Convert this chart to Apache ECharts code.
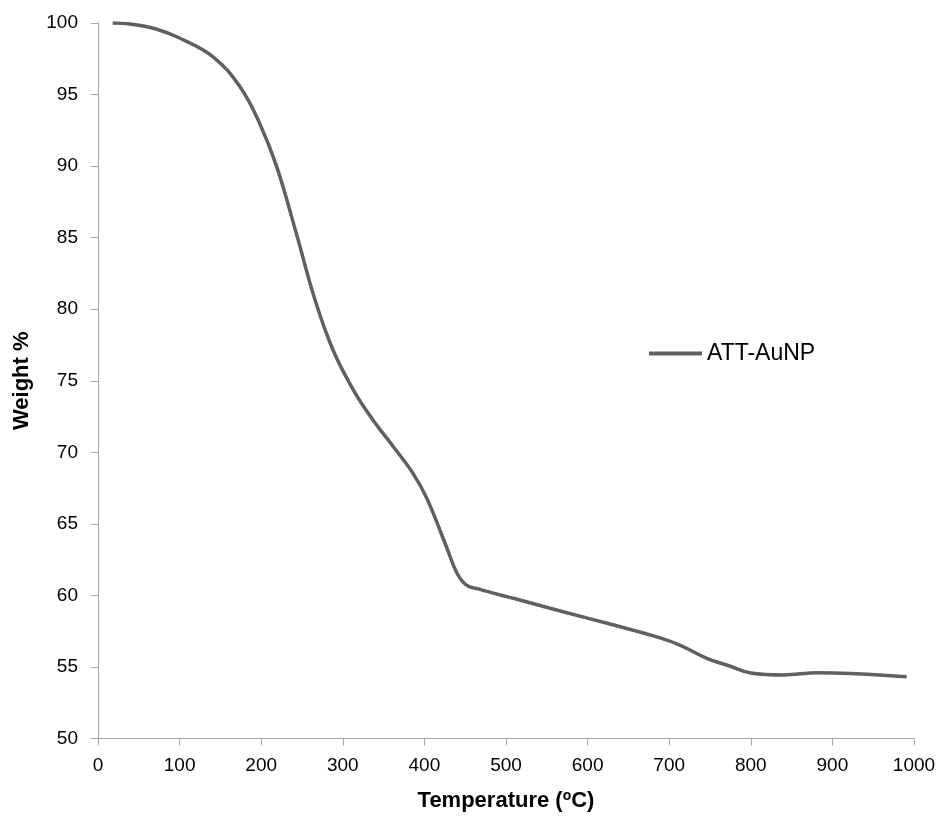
<!DOCTYPE html>
<html>
<head>
<meta charset="utf-8">
<script src="https://cdn.jsdelivr.net/npm/echarts@6/dist/echarts.min.js"></script>
<style>html,body{margin:0;padding:0;background:#fff}#c{width:939px;height:818px}</style>
</head>
<body>
<div id="c"></div>
<script>
const temperature = [18, 41, 70, 100, 141, 174, 198, 219, 243, 266, 288, 313, 337, 362, 386, 403, 427, 440, 452, 468, 493, 509, 570, 632, 685, 713, 746, 775, 800, 840, 881, 922, 991];
const weight = [100, 99.92, 99.6, 98.95, 97.64, 95.55, 93.0, 89.96, 85.3, 80.64, 77.15, 74.35, 72.26, 70.39, 68.53, 66.78, 63.4, 61.55, 60.7, 60.42, 60.03, 59.8, 58.86, 57.93, 57.1, 56.53, 55.6, 55.05, 54.58, 54.44, 54.6, 54.55, 54.32];
const seriesName = 'ATT-AuNP';

const data = temperature.map((t, i) => [t, weight[i]]);
const font = 'Liberation Sans';
const chart = echarts.init(document.getElementById('c'));
chart.setOption({
  animation: false,
  backgroundColor: '#fff',
  grid: { left: 98, right: 25, top: 23, bottom: 79.5, containLabel: false },
  legend: {
    data: [seriesName], left: 649, top: 342, padding: 0, itemWidth: 53, itemHeight: 4, itemGap: 0,
    icon: 'path://M0,0H53V4H0Z',
    textStyle: { fontFamily: font, fontSize: 23, color: '#000' }
  },
  xAxis: {
    type: 'value', min: 0, max: 1000, interval: 100,
    name: 'Temperature ({sup|o}C)', nameLocation: 'middle', nameGap: 51,
    nameTextStyle: { fontFamily: font, fontSize: 22, fontWeight: 'bold', color: '#000',
      rich: { sup: { fontFamily: font, fontSize: 14, fontWeight: 'bold', color: '#000', verticalAlign: 'top', padding: [0, 0, 9, 0] } } },
    axisLine: { lineStyle: { color: '#a6a6a6', width: 1 } },
    axisTick: { length: 7, lineStyle: { color: '#a6a6a6' } },
    axisLabel: { fontFamily: font, fontSize: 19, color: '#000', margin: 18, formatter: v => String(v) },
    splitLine: { show: false }
  },
  yAxis: {
    type: 'value', min: 50, max: 100, interval: 5,
    name: 'Weight %', nameLocation: 'middle', nameGap: 65, nameRotate: 90,
    nameTextStyle: { fontFamily: font, fontSize: 22, fontWeight: 'bold', color: '#000' },
    axisLine: { show: true, lineStyle: { color: '#a6a6a6', width: 1 } },
    axisTick: { show: true, length: 7, lineStyle: { color: '#a6a6a6' } },
    axisLabel: { fontFamily: font, fontSize: 19, color: '#000', margin: 20 },
    splitLine: { show: false }
  },
  series: [{
    name: seriesName, type: 'line', data: data, smooth: 0.4, showSymbol: false, symbol: 'none',
    lineStyle: { color: '#606060', width: 3.5 }, itemStyle: { color: '#606060' }
  }]
});
</script>
</body>
</html>
